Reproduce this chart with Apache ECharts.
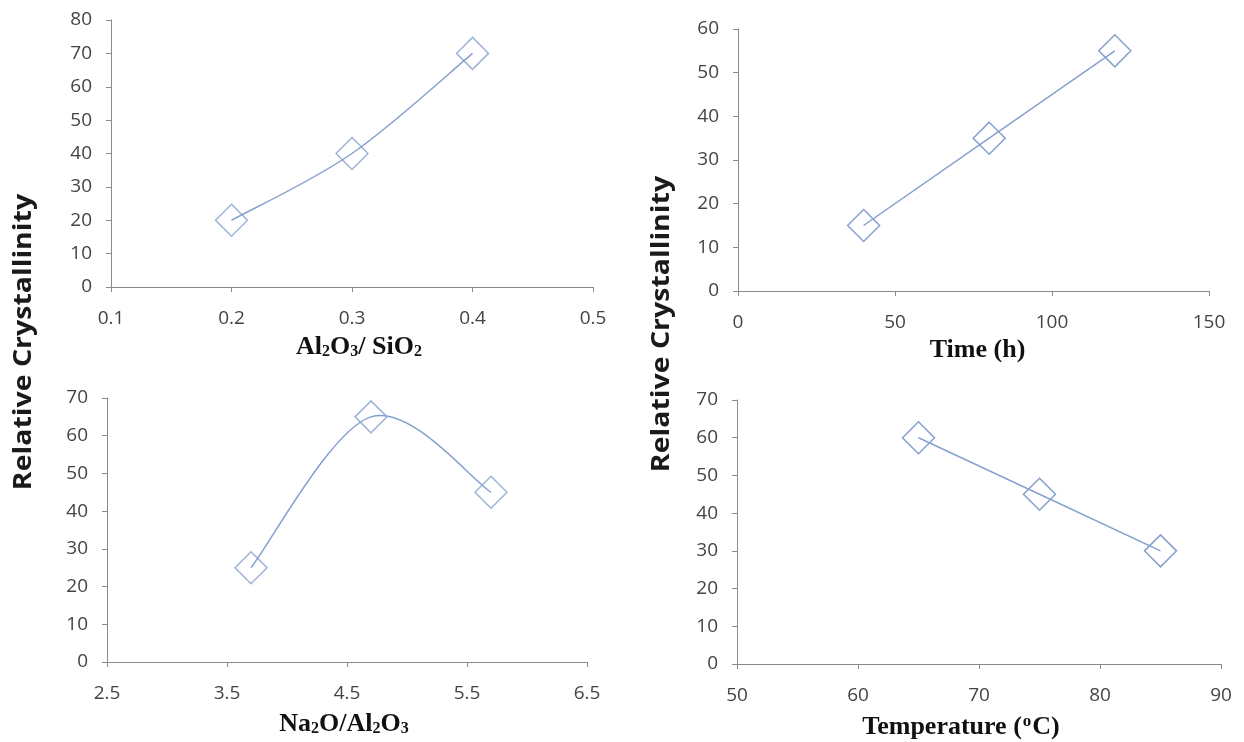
<!DOCTYPE html>
<html>
<head>
<meta charset="utf-8">
<script src="https://cdn.jsdelivr.net/npm/echarts@6/dist/echarts.min.js"></script>
<style>
html,body{margin:0;padding:0;background:#fff;}
#chart{width:1244px;height:742px;}
</style>
</head>
<body>
<div id="chart"></div>
<script>
// ---- data ----
const alsiX = [0.2, 0.3, 0.4];
const alsiY = [20, 40, 70];
const timeX = [40, 80, 120];
const timeY = [15, 35, 55];
const naalX = [3.7, 4.7, 5.7];
const naalY = [25, 65, 45];
const tempX = [65, 75, 85];
const tempY = [60, 45, 30];

// tick labels
const alsiXTicks = [0.1, 0.2, 0.3, 0.4, 0.5];
const alsiYTicks = [0, 10, 20, 30, 40, 50, 60, 70, 80];
const timeXTicks = [0, 50, 100, 150];
const timeYTicks = [0, 10, 20, 30, 40, 50, 60];
const naalXTicks = [2.5, 3.5, 4.5, 5.5, 6.5];
const naalYTicks = [0, 10, 20, 30, 40, 50, 60, 70];
const tempXTicks = [50, 60, 70, 80, 90];
const tempYTicks = [0, 10, 20, 30, 40, 50, 60, 70];

const yTitle = 'Relative Crystallinity';

// ---- styles ----
const lineColor = '#86a0cf';
const axisColor = '#8a8a8a';
const labelColor = '#444444';
const tickFont = '"Open Sans"';
const serif = '"Liberation Serif"';

function zip(xs, ys) { return xs.map((x, i) => [x, ys[i]]); }

function xAxisOf(idx, ticks, name, fmt, gap, shift) {
  // shift > 0 moves the title right, < 0 left
  const pad = shift >= 0 ? [0, 0, 0, 2 * shift] : [0, -2 * shift, 0, 0];
  return {
    type: 'value', gridIndex: idx,
    min: ticks[0], max: ticks[ticks.length - 1],
    interval: +(ticks[1] - ticks[0]).toFixed(6),
    splitLine: { show: false },
    axisLine: { show: true, onZero: false, lineStyle: { color: axisColor, width: 1 } },
    axisTick: { show: true, inside: false, length: 5, lineStyle: { color: axisColor } },
    axisLabel: { color: labelColor, fontFamily: tickFont, fontSize: 19, margin: 22,
                 formatter: fmt },
    name: name, nameLocation: 'middle', nameGap: gap,
    nameTextStyle: {
      fontFamily: serif, fontWeight: 'bold', fontSize: 26, color: '#111',
      padding: pad,
      rich: {
        b: { fontFamily: serif, fontWeight: 'bold', fontSize: 26, color: '#111' },
        s: { fontFamily: serif, fontWeight: 'bold', fontSize: 16, color: '#111', padding: [10, 0, 0, 0] },
        u: { fontFamily: serif, fontWeight: 'bold', fontSize: 17, color: '#111', padding: [0, 1, 11, 1] }
      }
    }
  };
}
function yAxisOf(idx, ticks) {
  return {
    type: 'value', gridIndex: idx,
    min: ticks[0], max: ticks[ticks.length - 1],
    interval: ticks[1] - ticks[0],
    splitLine: { show: false },
    axisLine: { show: true, lineStyle: { color: axisColor, width: 1 } },
    axisTick: { show: true, inside: false, length: 5, lineStyle: { color: axisColor } },
    axisLabel: { color: labelColor, fontFamily: tickFont, fontSize: 19, margin: 19 }
  };
}
const markerStyle = { color: 'rgba(255,255,255,0)', borderColor: lineColor, borderWidth: 1.5 };
function seriesOf(idx, xs, ys) {
  return {
    type: 'line', xAxisIndex: idx, yAxisIndex: idx,
    data: zip(xs, ys),
    smooth: false,
    symbol: 'diamond', symbolSize: 32,
    showAllSymbol: true,
    lineStyle: { color: lineColor, width: 1.5 },
    itemStyle: markerStyle,
    emphasis: { disabled: true },
    z: 3
  };
}
// Markers only
function markersOf(idx, xs, ys) {
  return {
    type: 'scatter', xAxisIndex: idx, yAxisIndex: idx,
    data: zip(xs, ys),
    symbol: 'diamond', symbolSize: 32,
    itemStyle: markerStyle,
    emphasis: { disabled: true },
    z: 4
  };
}
// Spreadsheet-style smoothed line (Catmull-Rom Bezier in pixel space),
// positioned through the axes with api.coord
function smoothCurveOf(idx, xs, ys) {
  const pts = zip(xs, ys);
  return {
    type: 'custom', xAxisIndex: idx, yAxisIndex: idx,
    data: pts,
    encode: { x: 0, y: 1 },
    silent: true,
    z: 3,
    renderItem: function (params, api) {
      if (params.dataIndex !== 0) return null;
      const p = pts.map(d => api.coord(d));
      const n = p.length;
      let d = 'M' + p[0][0] + ' ' + p[0][1];
      for (let i = 0; i < n - 1; i++) {
        const p0 = p[Math.max(i - 1, 0)], p1 = p[i], p2 = p[i + 1], p3 = p[Math.min(i + 2, n - 1)];
        const c1x = p1[0] + (p2[0] - p0[0]) / 6, c1y = p1[1] + (p2[1] - p0[1]) / 6;
        const c2x = p2[0] - (p3[0] - p1[0]) / 6, c2y = p2[1] - (p3[1] - p1[1]) / 6;
        d += ' C' + c1x + ' ' + c1y + ' ' + c2x + ' ' + c2y + ' ' + p2[0] + ' ' + p2[1];
      }
      return {
        type: 'path',
        shape: { pathData: d },
        style: { fill: null, stroke: lineColor, lineWidth: 1.5 }
      };
    }
  };
}

const chart = echarts.init(document.getElementById('chart'), null, { renderer: 'canvas' });
chart.setOption({
  animation: false,
  backgroundColor: '#ffffff',
  grid: [
    { left: 111, top: 20, width: 482, height: 267 },
    { left: 738, top: 29, width: 471, height: 262 },
    { left: 107, top: 398, width: 480, height: 264 },
    { left: 737, top: 400, width: 484, height: 264 }
  ],
  xAxis: [
    xAxisOf(0, alsiXTicks, '{b|Al}{s|2}{b|O}{s|3}{b|/ SiO}{s|2}', v => v.toFixed(1), 47, 7),
    xAxisOf(1, timeXTicks, '{b|Time (h)}', v => String(v), 46, 4),
    xAxisOf(2, naalXTicks, '{b|Na}{s|2}{b|O/Al}{s|2}{b|O}{s|3}', v => v.toFixed(1), 49, -3),
    xAxisOf(3, tempXTicks, '{b|Temperature (}{u|o}{b|C)}', v => String(v), 49, -18)
  ],
  yAxis: [
    yAxisOf(0, alsiYTicks),
    yAxisOf(1, timeYTicks),
    yAxisOf(2, naalYTicks),
    yAxisOf(3, tempYTicks)
  ],
  series: [
    smoothCurveOf(0, alsiX, alsiY),
    markersOf(0, alsiX, alsiY),
    seriesOf(1, timeX, timeY),
    smoothCurveOf(2, naalX, naalY),
    markersOf(2, naalX, naalY),
    seriesOf(3, tempX, tempY)
  ],
  graphic: [
    { type: 'text', x: 24, y: 342, rotation: Math.PI / 2, scaleX: 1.14, scaleY: 1,
      style: { text: yTitle, font: 'bold 25px "Open Sans"', fill: '#1a1a1a',
               textAlign: 'center', textVerticalAlign: 'middle' } },
    { type: 'text', x: 662, y: 324, rotation: Math.PI / 2, scaleX: 1.14, scaleY: 1,
      style: { text: yTitle, font: 'bold 25px "Open Sans"', fill: '#1a1a1a',
               textAlign: 'center', textVerticalAlign: 'middle' } }
  ]
});
</script>
</body>
</html>
